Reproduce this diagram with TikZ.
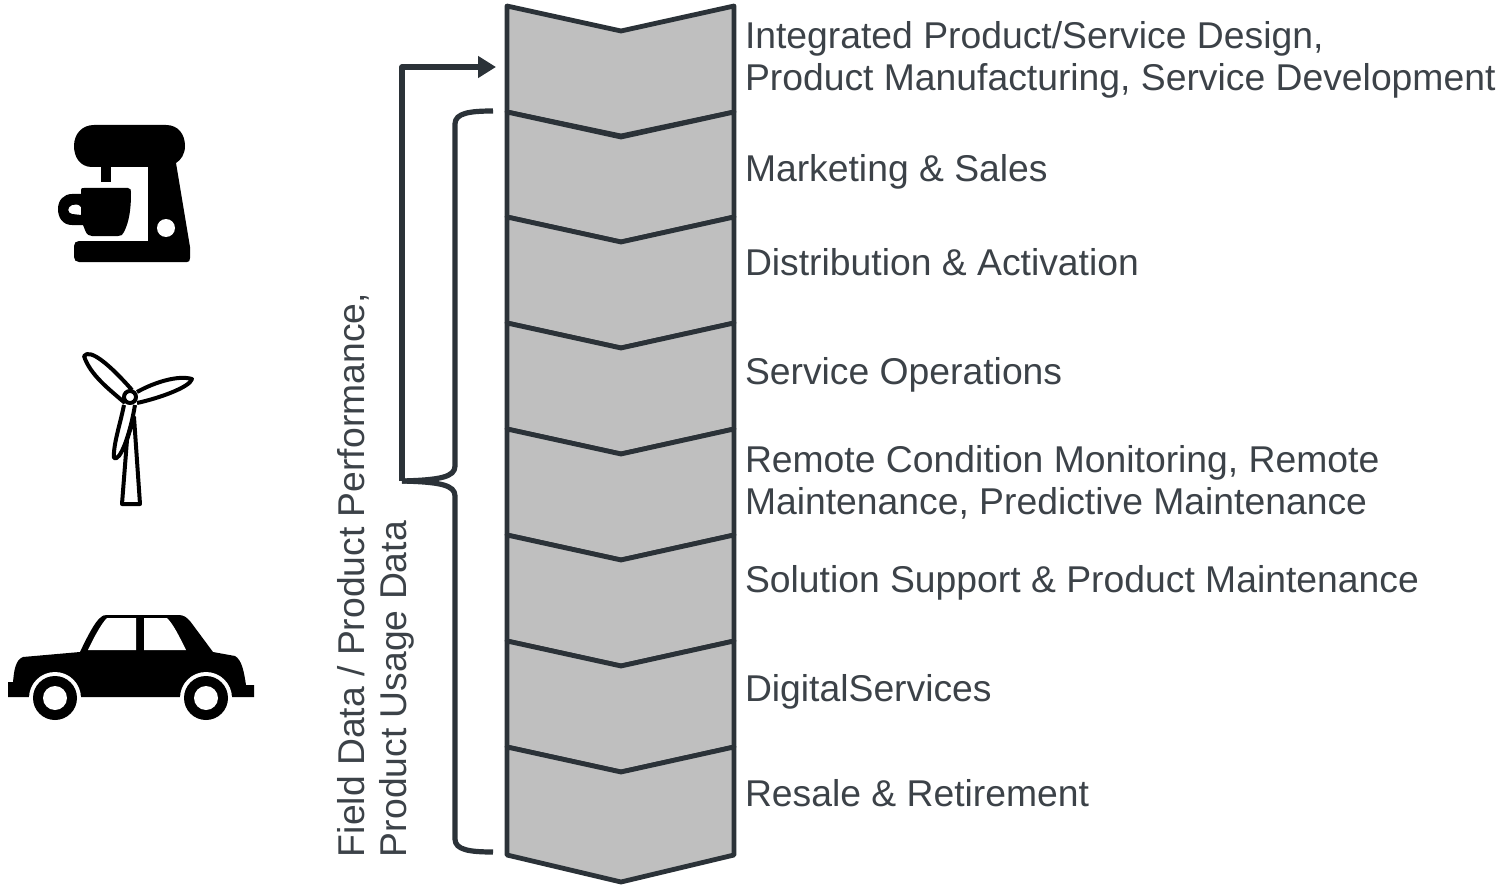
\documentclass[tikz,border=0pt]{standalone}
\usepackage{fontspec}
\setmainfont{Liberation Sans}
\usetikzlibrary{arrows.meta}
\definecolor{linecol}{HTML}{2B3238}
\definecolor{txtcol}{HTML}{3C4248}
\definecolor{stepcol}{HTML}{BFBFBF}

\begin{document}
\begin{tikzpicture}[x=0.5pt,y=-0.5pt,
  every node/.style={text=txtcol,font=\fontsize{18.65}{21}\selectfont,inner sep=0pt,outer sep=0pt},
  stage/.style={anchor=west,align=left},
  sidetext/.style={anchor=west,align=left,rotate=90},
  chevron/.style={draw=linecol,fill=stepcol,line width=2.4pt,line join=round},
  bracket/.style={draw=linecol,line width=2.6pt,line join=round},
  blade/.style={draw=black,line width=2pt,line join=round},
  icon/.style={fill=black,draw=none}]

        \useasboundingbox (0,0) rectangle (1511,888);

        \foreach \ytop/\ybot/\ytip in {6/112/136,112/217/242,217/323/348,323/429/454,429/535/560,535/641/666,641/747/772,747/855/882} {
          \draw[chevron] (507,\ytop) -- (621,\ytop+25) -- (734,\ytop) -- (734,\ybot)
            -- (621,\ytip) -- (507,\ybot) -- cycle;
        }

        \node (design) [stage] at (745,60) {Integrated Product/Service Design,\\Product Manufacturing, Service Development};
        \node (sales) [stage] at (745,172) {Marketing \& Sales};
        \node (distribution) [stage] at (745,262) {Distribution \& Activation};
        \node (operations) [stage] at (745,375) {Service Operations};
        \node (remote) [stage] at (745,482) {Remote Condition Monitoring, Remote\\Maintenance, Predictive Maintenance};
        \node (support) [stage] at (745,583) {Solution Support \& Product Maintenance};
        \node (digital) [stage] at (745,692) {DigitalServices};
        \node (resale) [stage] at (745,793) {Resale \& Retirement};

        \node (field) [sidetext] at (376,857) {Field Data / Product Performance,\\Product Usage Data};

        \coordinate (tip) at (402,481);
        \coordinate (entry) at (496,67);
        \draw[bracket,-{Triangle[length=9pt,width=10.5pt]}] (tip) |- (entry);

        \draw[bracket] (493,111) .. controls (470,111) and (455,113) .. (455,124) -- (455,466)
          .. controls (455,477) and (440,480) .. (tip);
        \draw[bracket] (493,852) .. controls (470,852) and (455,850) .. (455,839) -- (455,496)
          .. controls (455,485) and (440,482) .. (tip);

        % coffee machine
        \fill[icon] (148,167) -- (92,167) .. controls (80,167) and (74,157) .. (74,146)
          .. controls (74,134) and (82,125) .. (94,125) -- (166,125)
          .. controls (178,125) and (185,134) .. (185,146)
          .. controls (185,154) and (181,160) .. (176,163) -- (190,247) -- (190,258)
          .. controls (190,261) and (189,262) .. (187,262) -- (79,262)
          .. controls (76,262) and (74,260) .. (74,257) -- (74,246)
          .. controls (74,243) and (76,241) .. (79,241) -- (148,241) -- cycle;
        \fill[white] (166,228) circle [x radius=9,y radius=9];
        \fill[icon] (101,165) rectangle (111,182);
        \fill[icon,even odd rule] (84,188) -- (128,188) .. controls (131,188) and (131,190) .. (131,193)
          .. controls (131,210) and (129,222) .. (124,232) .. controls (123,235) and (121,236) .. (118,236)
          -- (92,236) .. controls (89,236) and (87,235) .. (85,230) -- (83,225) -- (72,225)
          .. controls (63,225) and (58,218) .. (58,209) .. controls (58,200) and (64,194) .. (72,194)
          -- (81,194) -- (81,190) .. controls (81,188) and (82,188) .. (84,188) -- cycle
          (81,215) -- (81,207) .. controls (79,204) and (75,204) .. (72,205)
          .. controls (67,207) and (67,213) .. (72,214) -- cycle;

        % wind turbine
        \draw[blade,fill=white] (134,417) -- (140,504) -- (122,504) -- (127,440) -- cycle;
        \draw[blade] (125,403) .. controls (110,390) and (90,375) .. (84,356)
          .. controls (90,348) and (110,365) .. (132,390);
        \draw[blade] (137,392) .. controls (155,382) and (178,375) .. (192,379)
          .. controls (190,387) and (160,398) .. (137,403);
        \draw[blade] (124,405) .. controls (120,425) and (113,445) .. (114,458)
          .. controls (120,462) and (130,435) .. (135,405);
        \draw[blade,fill=white] (130,397) circle [x radius=6,y radius=6];

        % car
        \fill[icon] (8,682) -- (13,682) .. controls (14,672) and (15,660) .. (23,657) -- (80,652)
          .. controls (88,635) and (95,622) .. (100,618) .. controls (103,615) and (105,615) .. (108,615) -- (178,615)
          .. controls (184,615) and (186,617) .. (190,621) -- (213,652) -- (235,656)
          .. controls (242,660) and (244,672) .. (246,685) -- (254,685) -- (254,697) -- (8,697) -- cycle;
        \fill[white] (88,650) .. controls (95,635) and (102,623) .. (107,618) -- (136,618) -- (136,650) -- cycle;
        \fill[white] (144,618) -- (167,618) .. controls (174,625) and (180,638) .. (186,650) -- (144,650) -- cycle;
        \foreach \xw in {55,206} {
          \fill[white] (\xw,698) circle [x radius=26,y radius=26];
          \fill[icon] (\xw,698) circle [x radius=22,y radius=22];
          \fill[white] (\xw,698) circle [x radius=12,y radius=12];
        }
\end{tikzpicture}
\end{document}
